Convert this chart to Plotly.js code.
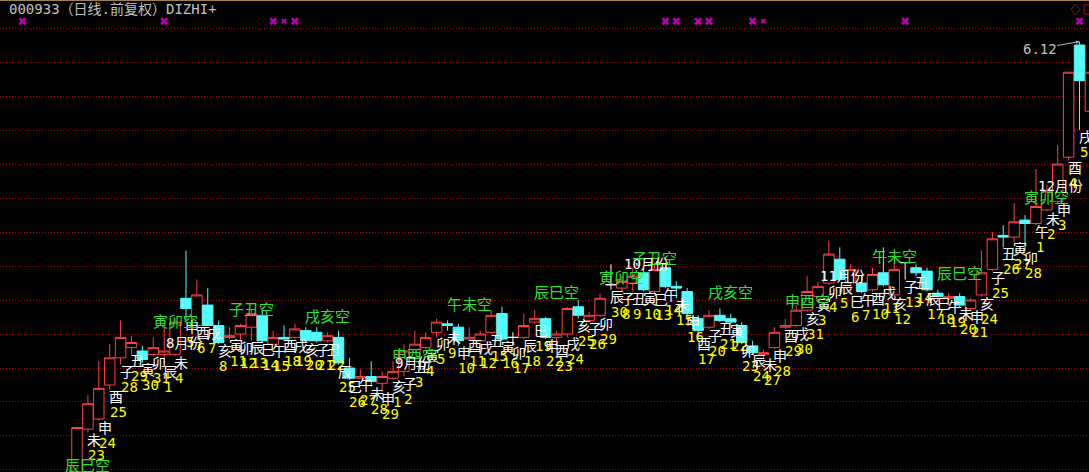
<!DOCTYPE html>
<html><head><meta charset="utf-8">
<script src="https://cdn.plot.ly/plotly-3.0.1.min.js"></script>
<style>html,body{margin:0;padding:0;background:#000;overflow:hidden}#chart{width:1089px;height:472px}</style>
</head><body><div id="chart"></div>
<script>
// ---- data (000933 日线 前复权, 2014) ----
const dates = ['2014-07-22','2014-07-23','2014-07-24','2014-07-25','2014-07-28','2014-07-29','2014-07-30','2014-07-31','2014-08-01','2014-08-04',
'2014-08-05','2014-08-06','2014-08-07','2014-08-08','2014-08-11','2014-08-12','2014-08-13','2014-08-14','2014-08-15','2014-08-18',
'2014-08-19','2014-08-20','2014-08-21','2014-08-22','2014-08-25','2014-08-26','2014-08-27','2014-08-28','2014-08-29','2014-09-01',
'2014-09-02','2014-09-03','2014-09-04','2014-09-05','2014-09-09','2014-09-10','2014-09-11','2014-09-12','2014-09-15','2014-09-16',
'2014-09-17','2014-09-18','2014-09-19','2014-09-22','2014-09-23','2014-09-24','2014-09-25','2014-09-26','2014-09-29','2014-09-30',
'2014-10-08','2014-10-09','2014-10-10','2014-10-13','2014-10-14','2014-10-15','2014-10-16','2014-10-17','2014-10-20','2014-10-21',
'2014-10-22','2014-10-23','2014-10-24','2014-10-27','2014-10-28','2014-10-29','2014-10-30','2014-10-31','2014-11-03','2014-11-04',
'2014-11-05','2014-11-06','2014-11-07','2014-11-10','2014-11-11','2014-11-12','2014-11-13','2014-11-14','2014-11-17','2014-11-18',
'2014-11-19','2014-11-20','2014-11-21','2014-11-24','2014-11-25','2014-11-26','2014-11-27','2014-11-28','2014-12-01','2014-12-02',
'2014-12-03','2014-12-04','2014-12-05','2014-12-08'];
const branches = ['午','未','申','酉','子','丑','寅','卯','辰','未',
'申','酉','戌','亥','寅','卯','辰','巳','午','酉',
'戌','亥','子','丑','辰','巳','午','未','申','亥',
'子','丑','寅','卯','未','申','酉','戌','丑','寅',
'卯','辰','巳','申','酉','戌','亥','子','卯','辰',
'子','丑','寅','巳','午','未','申','酉','子','丑',
'寅','卯','辰','未','申','酉','戌','亥','寅','卯',
'辰','巳','午','酉','戌','亥','子','丑','辰','巳',
'午','未','申','亥','子','丑','寅','卯','午','未',
'申','酉','戌','丑'];
const opens = [3.59,3.84,3.90,4.10,4.26,4.32,4.30,4.28,4.28,4.28,
4.61,4.45,4.57,4.45,4.38,4.40,4.44,4.51,4.34,4.38,
4.38,4.42,4.41,4.36,4.38,4.20,4.14,4.15,4.11,4.14,
4.18,4.26,4.32,4.41,4.46,4.44,4.37,4.36,4.41,4.52,
4.38,4.38,4.47,4.49,4.38,4.40,4.56,4.48,4.51,4.69,
4.67,4.70,4.76,4.65,4.79,4.68,4.65,4.49,4.44,4.51,
4.49,4.45,4.33,4.28,4.32,4.44,4.45,4.54,4.62,4.70,
4.84,4.70,4.70,4.66,4.76,4.63,4.82,4.79,4.77,4.64,
4.61,4.62,4.55,4.63,4.78,4.98,4.97,5.07,5.05,5.13,
5.18,5.44,6.10,5.71];
const highs = [3.85,4.04,4.24,4.34,4.48,4.39,4.33,4.38,4.44,4.49,
4.89,4.72,4.67,4.48,4.44,4.46,4.54,4.54,4.42,4.45,
4.46,4.44,4.44,4.41,4.42,4.26,4.19,4.24,4.18,4.24,
4.34,4.42,4.41,4.49,4.48,4.46,4.44,4.42,4.54,4.56,
4.41,4.52,4.54,4.50,4.42,4.56,4.60,4.53,4.64,4.81,
4.74,4.79,4.79,4.82,4.82,4.71,4.67,4.51,4.54,4.55,
4.52,4.47,4.36,4.31,4.44,4.49,4.57,4.74,4.71,4.95,
4.91,4.81,4.75,4.79,4.91,4.82,4.82,4.81,4.79,4.66,
4.64,4.64,4.61,4.89,5.00,5.04,5.17,5.10,5.37,5.28,
5.51,5.94,6.12,5.94];
const lows = [3.59,3.82,3.89,4.07,4.22,4.28,4.23,4.27,4.22,4.27,
4.48,4.45,4.45,4.34,4.37,4.36,4.36,4.35,4.34,4.37,
4.37,4.35,4.35,4.35,4.22,4.13,4.14,4.09,4.06,4.13,
4.15,4.25,4.31,4.38,4.42,4.33,4.37,4.36,4.40,4.36,
4.33,4.37,4.46,4.37,4.34,4.38,4.49,4.47,4.50,4.66,
4.65,4.65,4.65,4.64,4.67,4.61,4.51,4.38,4.43,4.47,
4.46,4.34,4.28,4.26,4.31,4.43,4.44,4.53,4.61,4.69,
4.71,4.63,4.64,4.65,4.68,4.62,4.72,4.74,4.65,4.62,
4.60,4.56,4.54,4.62,4.77,4.91,4.94,4.89,5.04,5.12,
5.17,5.42,5.60,5.69];
const closes = [3.85,3.99,4.08,4.26,4.38,4.35,4.25,4.32,4.30,4.47,
4.55,4.63,4.45,4.35,4.39,4.45,4.52,4.36,4.38,4.37,
4.43,4.36,4.36,4.39,4.23,4.14,4.15,4.12,4.15,4.18,
4.30,4.34,4.38,4.47,4.45,4.36,4.38,4.40,4.51,4.37,
4.38,4.45,4.49,4.38,4.40,4.55,4.51,4.51,4.61,4.69,
4.71,4.74,4.66,4.78,4.68,4.67,4.52,4.42,4.51,4.48,
4.47,4.35,4.29,4.29,4.41,4.45,4.54,4.65,4.68,4.87,
4.72,4.78,4.65,4.75,4.69,4.78,4.82,4.76,4.66,4.62,
4.62,4.57,4.60,4.76,4.96,4.97,5.06,5.05,5.15,5.24,
5.40,5.94,5.89,5.94];
const flatIdx = [40, 49, 76];            // 平盘十字星 drawn white
const xunIdx = [1, 9, 16, 23, 31, 36, 44, 50, 53, 60, 67, 75, 81, 89];
const xunText = ['辰巳空','寅卯空','子丑空','戌亥空','申酉空','午未空','辰巳空','寅卯空','子丑空','戌亥空','申酉空','午未空','辰巳空','寅卯空'];
const xunPrice = [3.63,4.48,4.55,4.51,4.28,4.58,4.65,4.74,4.85,4.65,4.60,4.86,4.76,5.21];
const monthIdx = [8, 29, 50, 68, 88];
const monthText = ['8月份','9月份','10月份','11月份','12月份'];
const monthPrice = [4.35,4.23,4.81,4.74,5.27];
const markIdx = [-5, 8, 18, 19, 20, 54, 55, 57, 58, 62, 63, 76, 92];
const markSmall = [19, 63];
const markPrice = 6.24;

// ---- styles ----
const RED = '#ff4040', CYAN = '#54fcfc';
const CJK = 'Noto Sans CJK SC';
const MONO = 'DejaVu Sans Mono, Noto Sans CJK SC';

const allI = dates.map((d, i) => i);
const mainI = allI.filter(i => !flatIdx.includes(i));
const pick = (arr, ids) => ids.map(i => arr[i]);

const traces = [
  {type:'candlestick', x: mainI, open: pick(opens, mainI), high: pick(highs, mainI),
   low: pick(lows, mainI), close: pick(closes, mainI), whiskerwidth: 0,
   increasing:{line:{color:RED, width:1}, fillcolor:'#000000'},
   decreasing:{line:{color:CYAN, width:1}, fillcolor:CYAN}, hoverinfo:'skip'},
  {type:'candlestick', x: flatIdx, open: pick(opens, flatIdx), high: pick(highs, flatIdx),
   low: pick(lows, flatIdx), close: pick(closes, flatIdx), whiskerwidth: 0,
   increasing:{line:{color:'#ffffff', width:1}, fillcolor:'#ffffff'},
   decreasing:{line:{color:'#ffffff', width:1}, fillcolor:'#ffffff'}, hoverinfo:'skip'},
  {type:'scatter', mode:'markers', x: markIdx, y: markIdx.map(() => markPrice),
   marker:{symbol:'x', color:'#ff00ff', size: markIdx.map(i => markSmall.includes(i) ? 5 : 7), line:{width:0}},
   hoverinfo:'skip'}
];

const ann = [];
allI.forEach(i => {
  ann.push({x:i, y:lows[i], text:branches[i], showarrow:false, xanchor:'left', yanchor:'top',
    xshift:-2, yshift:5, borderpad:0, font:{family:CJK, size:14, color:'#ffffff'}});
  ann.push({x:i, y:lows[i], text:String(parseInt(dates[i].slice(8), 10)), showarrow:false,
    xanchor:'left', yanchor:'top', xshift:-1, yshift:-13, borderpad:0,
    font:{family:MONO, size:14, color:'#ffff00'}});
});
xunIdx.forEach((i, k) => ann.push({x:i, y:xunPrice[k], text:xunText[k], showarrow:false,
  xanchor:'center', yanchor:'middle', borderpad:0, font:{family:CJK, size:15, color:'#2fe02f'}}));
monthIdx.forEach((i, k) => ann.push({x:i, y:monthPrice[k], text:monthText[k], showarrow:false,
  xanchor:'left', yanchor:'middle', xshift:1, borderpad:0, font:{family:MONO, size:14, color:'#ffffff'}}));
// highest price marker
let maxI = 0;
allI.forEach(i => { if (highs[i] > highs[maxI]) maxI = i; });
ann.push({x:maxI, y:highs[maxI], text:highs[maxI].toFixed(2), showarrow:true, ax:-40, ay:7,
  arrowcolor:'#b8b8b8', arrowwidth:1, arrowhead:2, arrowsize:0.7, standoff:0, borderpad:0,
  font:{family:MONO, size:14, color:'#c0c0c0'}});
// title
ann.push({xref:'paper', yref:'paper', x:0, y:1, xshift:8, yshift:0, xanchor:'left', yanchor:'top',
  text:'000933（日线.前复权）DIZHI+', showarrow:false, borderpad:0,
  font:{family:MONO, size:14, color:'#c0c0c0'}});

// pixel geometry of the TDX window: candle 0 centred at 77px, 10.897px per bar
const W = 1089, H = 472, step = 10.897, x0px = 77;
const xr0 = -x0px / step, xr1 = xr0 + W / step;

const layout = {
  width: W, height: H, margin:{l:0, r:0, t:0, b:0},
  paper_bgcolor:'#000000', plot_bgcolor:'#000000', showlegend:false,
  boxgap: 0.04, boxgroupgap: 0,
  xaxis:{range:[xr0, xr1], showgrid:false, zeroline:false, showticklabels:false, ticks:'',
         showline:false, rangeslider:{visible:false}, fixedrange:true},
  yaxis:{range:[3.5882, 6.3647], tick0:3.6, dtick:0.2, showgrid:true, gridcolor:'#b00000',
         griddash:'1px,2px', gridwidth:1, zeroline:false, showticklabels:false, ticks:'',
         showline:false, fixedrange:true},
  annotations: ann,
  shapes:[
    {type:'line', xref:'paper', yref:'paper', x0:0, x1:1, y0:1, y1:1, line:{color:'#a0824a', width:2}},
    {type:'path', xref:'paper', yref:'paper',
     path:'M 0.98347 0.97987 L 0.98760 0.99152 L 0.99173 0.97987 L 0.98760 0.96822 Z',
     line:{color:'#c00000', width:1}},
    {type:'rect', xref:'paper', yref:'paper', x0:0.99541, x1:1.01, y0:0.97034, y1:0.98941,
     line:{color:'#c00000', width:1}}
  ]
};

Plotly.newPlot('chart', traces, layout, {staticPlot:true, displayModeBar:false});
</script></body></html>
